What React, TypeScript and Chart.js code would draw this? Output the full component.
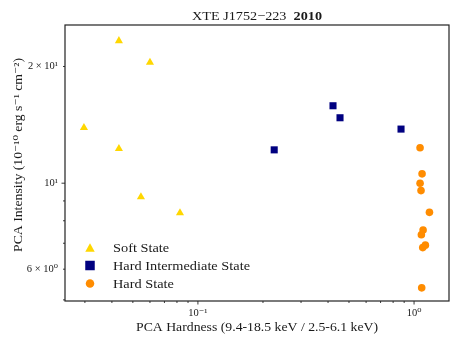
import React, { useEffect, useRef } from 'react';
import { Chart, registerables } from 'chart.js';

Chart.register(...registerables);

// ---- data ----
const softHardness = [0.0431, 0.06, 0.0297, 0.0431, 0.0545, 0.0826];
const softIntensity = [23.3, 20.5, 13.9, 12.27, 9.22, 8.38];

const himsHardness = [0.4217, 0.4544, 0.8704, 0.2254];
const himsIntensity = [15.84, 14.75, 13.79, 12.19];

const hardHardness = [1.066, 1.089, 1.066, 1.077, 1.178, 1.101, 1.081, 1.128, 1.097, 1.085];
const hardIntensity = [12.34, 10.57, 10.0, 9.57, 8.41, 7.57, 7.36, 6.92, 6.82, 5.37];

const seriesNames = ['Soft State', 'Hard Intermediate State', 'Hard State'];
const seriesColors = ['#FFD700', '#000080', '#FF8C00'];

const xTickValues = [0.03, 0.04, 0.05, 0.06, 0.07, 0.08, 0.09, 0.1, 0.2, 0.3, 0.4, 0.5, 0.6, 0.7, 0.8, 0.9, 1];
const xMajorValues = [0.1, 1];
const xTickLabels = ['10⁻¹', '10⁰'];

const yTickValues = [5, 6, 7, 8, 9, 10, 20];
const yMajorValues = [10];
const yLabeledValues = [6, 10, 20];
const yTickLabels = ['6 × 10⁰', '10¹', '2 × 10¹'];

const titleMain = 'XTE J1752−223';
const titleBold = '2010';
const xTitle = 'PCA Hardness (9.4-18.5 keV / 2.5-6.1 keV)';
const yTitle = 'PCA Intensity (10⁻¹⁰ erg s⁻¹ cm⁻²)';

const FONT = '"Liberation Serif", "DejaVu Serif", serif';
const TEXT = '#1a1a1a';

const near = (a: number, b: number) => Math.abs(a - b) / b < 1e-6;

function drawMarker(ctx: CanvasRenderingContext2D, style: string, x: number, y: number, s: number, color: string) {
  ctx.save();
  ctx.fillStyle = color;
  ctx.beginPath();
  if (style === 'triangle') {
    const h = s * 0.9;
    ctx.moveTo(x, y - h / 2);
    ctx.lineTo(x + s / 2, y + h / 2);
    ctx.lineTo(x - s / 2, y + h / 2);
    ctx.closePath();
  } else if (style === 'rect') {
    ctx.rect(x - s / 2, y - s / 2, s, s);
  } else {
    ctx.arc(x, y, s / 2, 0, Math.PI * 2);
  }
  ctx.fill();
  ctx.restore();
}

// draw text at (x, y) (left-aligned) stretched horizontally by sx
function stretchText(ctx: CanvasRenderingContext2D, text: string, x: number, y: number, sx: number) {
  ctx.save();
  ctx.translate(x, y);
  ctx.scale(sx, 1);
  ctx.textAlign = 'left';
  ctx.fillText(text, 0, 0);
  ctx.restore();
}

const decorPlugin = {
  id: 'decor',
  afterDraw(chart: any) {
    const ctx: CanvasRenderingContext2D = chart.ctx;
    const a = chart.chartArea;
    const xs = chart.scales.x;
    const ys = chart.scales.y;
    ctx.save();
    // frame
    ctx.strokeStyle = '#222';
    ctx.lineWidth = 1.2;
    ctx.strokeRect(a.left, a.top, a.right - a.left, a.bottom - a.top);
    // ticks
    ctx.lineWidth = 0.9;
    ctx.beginPath();
    xs.ticks.forEach((t: any) => {
      const px = xs.getPixelForValue(t.value);
      const len = xMajorValues.some((m) => near(m, t.value)) ? 3.5 : 2;
      ctx.moveTo(px, a.bottom);
      ctx.lineTo(px, a.bottom + len);
    });
    ys.ticks.forEach((t: any) => {
      const py = ys.getPixelForValue(t.value);
      const len = yMajorValues.some((m) => near(m, t.value)) ? 3.5 : 2;
      ctx.moveTo(a.left, py);
      ctx.lineTo(a.left - len, py);
    });
    ctx.stroke();

    ctx.fillStyle = TEXT;
    ctx.textBaseline = 'alphabetic';

    // title: fit to width 130 centred on plot
    const cx = (a.left + a.right) / 2;
    ctx.font = `13px ${FONT}`;
    const w1 = ctx.measureText(titleMain + '  ').width;
    ctx.font = `bold 13px ${FONT}`;
    const w2 = ctx.measureText(titleBold).width;
    const tsx = 130 / (w1 + w2);
    const startX = cx - 65;
    ctx.font = `13px ${FONT}`;
    stretchText(ctx, titleMain, startX, 19.5, tsx);
    ctx.font = `bold 13px ${FONT}`;
    stretchText(ctx, titleBold, startX + w1 * tsx, 19.5, tsx);

    // x axis title
    ctx.font = `13px ${FONT}`;
    const wx = ctx.measureText(xTitle).width;
    const sxx = 242 / wx;
    stretchText(ctx, xTitle, cx - 121, 331, sxx);

    // y axis title (rotated)
    const wy = ctx.measureText(yTitle).width;
    const syy = 194 / wy;
    ctx.save();
    ctx.translate(21.5, 155);
    ctx.rotate(-Math.PI / 2);
    stretchText(ctx, yTitle, -97, 0, syy);
    ctx.restore();

    // legend
    const sizes = [9.5, 9.5, 8.5];
    ctx.font = `13px ${FONT}`;
    ctx.textBaseline = 'alphabetic';
    const wl = ctx.measureText(seriesNames[1]).width;
    const sl = 137 / wl;
    chart.data.datasets.forEach((d: any, i: number) => {
      const y = 247.5 + i * 18;
      drawMarker(ctx, d.pointStyle, 90, y, sizes[i], d.backgroundColor);
      ctx.fillStyle = TEXT;
      stretchText(ctx, d.label, 113, y + 4.5, sl);
    });
    ctx.restore();
  },
};

export default function App() {
  const ref = useRef<HTMLCanvasElement | null>(null);
  useEffect(() => {
    if (!ref.current) return;
    const mk = (xs: number[], ys: number[]) => xs.map((x, i) => ({ x, y: ys[i] }));
    const chart = new Chart(ref.current, {
      type: 'scatter',
      data: {
        datasets: [
          {
            label: seriesNames[0],
            data: mk(softHardness, softIntensity),
            pointStyle: 'triangle',
            pointRadius: 4.7,
            backgroundColor: seriesColors[0],
            borderWidth: 0,
          },
          {
            label: seriesNames[1],
            data: mk(himsHardness, himsIntensity),
            pointStyle: 'rect',
            pointRadius: 5,
            backgroundColor: seriesColors[1],
            borderWidth: 0,
          },
          {
            label: seriesNames[2],
            data: mk(hardHardness, hardIntensity),
            pointStyle: 'circle',
            pointRadius: 3.8,
            backgroundColor: seriesColors[2],
            borderWidth: 0,
          },
        ],
      },
      options: {
        animation: false,
        responsive: false,
        devicePixelRatio: 1,
        layout: { padding: { top: 25, right: 14, left: 0, bottom: 0 } },
        plugins: { legend: { display: false }, tooltip: { enabled: false }, title: { display: false } },
        scales: {
          x: {
            type: 'logarithmic',
            min: 0.02427,
            max: 1.451,
            grid: { display: false, drawTicks: false },
            border: { display: false },
            afterBuildTicks: (s: any) => {
              s.ticks = xTickValues.map((v) => ({ value: v, major: false }));
            },
            afterFit: (s: any) => {
              s.height = 46;
            },
            ticks: {
              autoSkip: false,
              maxRotation: 0,
              padding: 6,
              color: TEXT,
              font: { family: FONT, size: 10.5 },
              callback: (v: any) => {
                const i = xMajorValues.findIndex((m) => near(m, Number(v)));
                return i >= 0 ? xTickLabels[i] : '';
              },
            },
          },
          y: {
            type: 'logarithmic',
            min: 4.967,
            max: 25.59,
            grid: { display: false, drawTicks: false },
            border: { display: false },
            afterBuildTicks: (s: any) => {
              s.ticks = yTickValues.map((v) => ({ value: v, major: false }));
            },
            afterFit: (s: any) => {
              s.width = 65;
            },
            ticks: {
              autoSkip: false,
              padding: 7,
              color: TEXT,
              font: { family: FONT, size: 10.5 },
              callback: (v: any) => {
                const i = yLabeledValues.findIndex((m) => near(m, Number(v)));
                return i >= 0 ? yTickLabels[i] : '';
              },
            },
          },
        },
      },
      plugins: [decorPlugin],
    } as any);
    return () => chart.destroy();
  }, []);
  return (
    <div style={{ position: 'fixed', left: 0, top: 0, width: 463, height: 347, background: '#fff' }}>
      <canvas ref={ref} width={463} height={347} style={{ width: 463, height: 347, display: 'block' }} />
    </div>
  );
}
